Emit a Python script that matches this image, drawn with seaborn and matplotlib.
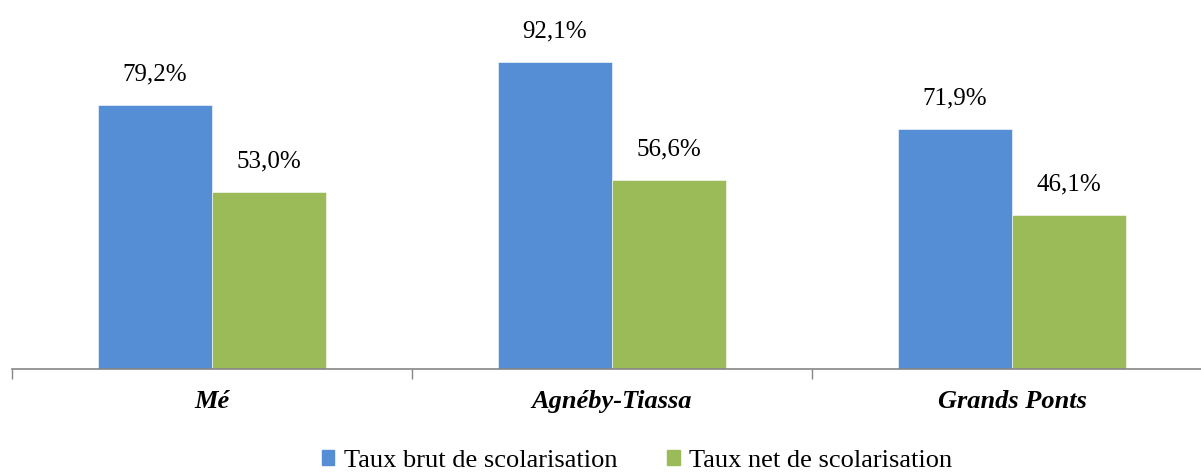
import matplotlib
matplotlib.use("Agg")
import matplotlib.pyplot as plt
import seaborn as sns
import pandas as pd

regions = ["Mé", "Agnéby-Tiassa", "Grands Ponts"]
series = ["Taux brut de scolarisation", "Taux net de scolarisation"]
taux_brut = [79.2, 92.1, 71.9]
taux_net = [53.0, 56.6, 46.1]
colors = ["#558ED5", "#9BBB59"]

df = pd.DataFrame({
    "region": regions * 2,
    "serie": [series[0]] * 3 + [series[1]] * 3,
    "taux": taux_brut + taux_net,
})

sns.set_theme(style="white")
plt.rcParams["font.family"] = ["Liberation Serif", "DejaVu Serif"]
plt.rcParams["text.color"] = "black"
plt.rcParams["xtick.color"] = "black"

W, H = 1201, 472
fig = plt.figure(figsize=(W / 100, H / 100), dpi=100)
ax = fig.add_axes([12 / W, 103 / H, 1200 / W, 366.7 / H])

sns.barplot(data=df, x="region", y="taux", hue="serie", order=regions,
            hue_order=series, palette=colors, width=0.57, saturation=1,
            edgecolor="white", linewidth=0.4, ax=ax)

ax.set_ylim(0, 110)
ax.set_xlim(-0.5, 2.5)

for cont in ax.containers:
    labels = [f"{v:.1f}%".replace(".", ",") for v in cont.datavalues]
    ax.bar_label(cont, labels=labels, padding=14, fontsize=18, color="black")

# Axis: boundary ticks between categories, labels centred on categories
ax.set_xticks([-0.5, 0.5, 1.5, 2.5])
ax.set_xticklabels([])
ax.set_xticks([0, 1, 2], minor=True)
ax.set_xticklabels(regions, minor=True, fontsize=19, fontweight="bold",
                   fontstyle="italic", color="black")
ax.tick_params(axis="x", which="major", length=7, width=1, color="#868686",
               direction="out", bottom=True)
ax.tick_params(axis="x", which="minor", length=0, pad=15)
ax.set_xlabel("")
ax.set_ylabel("")
ax.set_yticks([])
for s in ["left", "right", "top"]:
    ax.spines[s].set_visible(False)
ax.spines["bottom"].set_color("#868686")
ax.spines["bottom"].set_linewidth(1.2)

ax.get_legend().remove()
handles = [plt.Rectangle((0, 0), 1, 1, color=c) for c in colors]
fig.legend(handles, series, loc="center", bbox_to_anchor=(637 / W, 1 - 461 / H),
           ncol=2, frameon=False, fontsize=19, handlelength=0.47,
           handleheight=0.47, handletextpad=0.35, columnspacing=1.9,
           labelcolor="black")

fig.savefig("out.png", dpi=100)
